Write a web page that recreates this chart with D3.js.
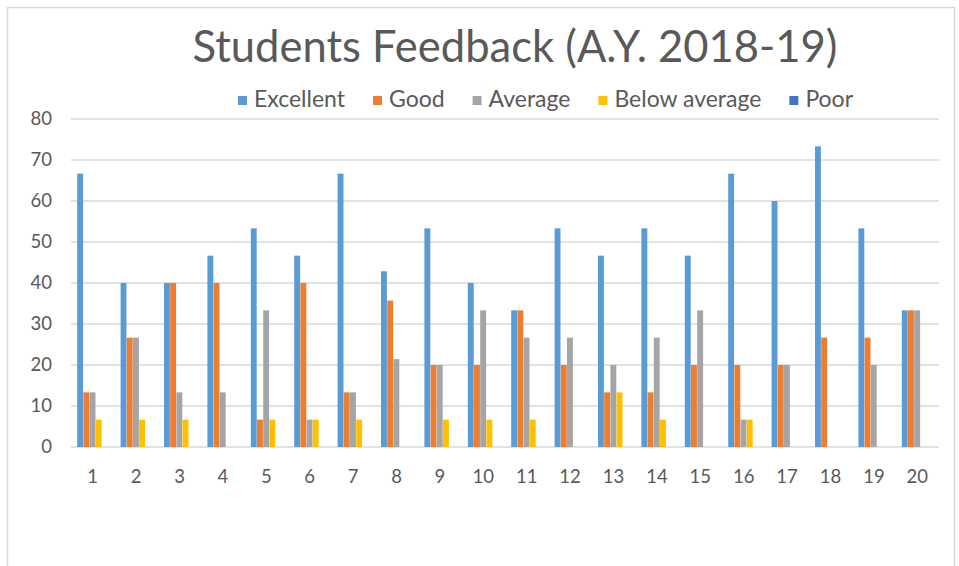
<!DOCTYPE html>
<html><head><meta charset="utf-8">
<script src="https://cdn.jsdelivr.net/npm/d3@7"></script>
<style>
html,body{margin:0;padding:0;background:#fff;}
svg{display:block;font-family:Lato,"Open Sans",sans-serif;}
</style></head>
<body><svg id="chart" width="959" height="566"></svg>
<script>
const categories = ["1","2","3","4","5","6","7","8","9","10","11","12","13","14","15","16","17","18","19","20"];
const seriesNames = ["Excellent","Good","Average","Below average","Poor"];
const seriesColors = ["#5B9BD5","#ED7D31","#A5A5A5","#FFC000","#4472C4"];
const excellent    = [66.67,40,40,46.67,53.33,46.67,66.67,42.86,53.33,40,33.33,53.33,46.67,53.33,46.67,66.67,60,73.33,53.33,33.33];
const good         = [13.33,26.67,40,40,6.67,40,13.33,35.71,20,20,33.33,20,13.33,13.33,20,20,20,26.67,26.67,33.33];
const average      = [13.33,26.67,13.33,13.33,33.33,6.67,13.33,21.43,20,33.33,26.67,26.67,20,26.67,33.33,6.67,20,0,20,33.33];
const belowAverage = [6.67,6.67,6.67,0,6.67,6.67,6.67,0,6.67,6.67,6.67,0,13.33,6.67,0,6.67,0,0,0,0];
const poor         = [0,0,0,0,0,0,0,0,0,0,0,0,0,0,0,0,0,0,0,0];
const yTicks = [0,10,20,30,40,50,60,70,80];
const titleText = "Students Feedback (A.Y. 2018-19)";

const seriesValues = [excellent, good, average, belowAverage, poor];
const svg = d3.select("#chart");
const textColor = "#595959";
const gridColor = "#d9d9d9";

// chart border
svg.append("rect").attr("x",7.5).attr("y",7.5).attr("width",947).attr("height",580)
  .attr("fill","#fff").attr("stroke","#d9d9d9").attr("stroke-width",1.5);

const plot = {left:71, right:939, top:119, bottom:447};
const x = d3.scaleBand().domain(categories).range([plot.left, plot.right]).paddingInner(0.286).paddingOuter(0.143);
const xs = d3.scaleBand().domain(seriesNames).range([0, x.bandwidth()]);
const y = d3.scaleLinear().domain([0,80]).range([plot.bottom, plot.top]);

// gridlines
svg.append("g").selectAll("line").data(yTicks).join("line")
  .attr("x1",plot.left).attr("x2",plot.right)
  .attr("y1",d=>y(d)).attr("y2",d=>y(d))
  .attr("stroke",gridColor).attr("stroke-width",1.5);

// y axis labels
const yAxis = d3.axisLeft(y).tickValues(yTicks).tickSize(0).tickPadding(0);
const yg = svg.append("g").attr("transform",`translate(${plot.left-19},0)`).call(yAxis);
yg.select(".domain").remove();
yg.selectAll("text").attr("fill",textColor).style("font-size","18.5px").style("font-family","Lato,'Open Sans',sans-serif");

// x axis labels
const xAxis = d3.axisBottom(x).tickSize(0).tickPadding(0);
const xg = svg.append("g").attr("transform",`translate(0,${plot.bottom+23})`).call(xAxis);
xg.select(".domain").remove();
xg.selectAll("text").attr("fill",textColor).style("font-size","18.5px").style("font-family","Lato,'Open Sans',sans-serif");

// bars
const groups = svg.append("g").selectAll("g").data(categories).join("g")
  .attr("transform",d=>`translate(${x(d)},0)`);
groups.selectAll("rect").data((c,i)=>seriesNames.map((s,j)=>({s, v:seriesValues[j][i], color:seriesColors[j]})))
  .join("rect")
  .attr("x",d=>xs(d.s)).attr("width",xs.bandwidth()-0.3)
  .attr("y",d=>y(d.v)).attr("height",d=>y(0)-y(d.v))
  .attr("fill",d=>d.color);

// title
const title = svg.append("text").attr("x",515).attr("y",62).attr("text-anchor","middle")
  .attr("fill",textColor).style("font-size","44px").text(titleText);
{
  const w = title.node().getComputedTextLength();
  title.style("font-size", (44*645/w).toFixed(2)+"px");
}

// legend
const legend = svg.append("g");
const items = legend.selectAll("g").data(seriesNames).join("g");
items.append("rect").attr("width",9).attr("height",9).attr("y",-8).attr("fill",(d,i)=>seriesColors[i]);
const ltexts = items.append("text").attr("x",16).attr("y",0).attr("fill",textColor).style("font-size","20px")
  .attr("dominant-baseline","middle").attr("dy","-2.5").text(d=>d);
{
  const w = ltexts.filter(d=>d==="Below average").node().getComputedTextLength();
  ltexts.style("font-size", (20*147/w).toFixed(2)+"px");
}
let widths = [];
items.each(function(){ widths.push(d3.select(this).select("text").node().getComputedTextLength()+16); });
const gap = 28;
const total = d3.sum(widths) + gap*(widths.length-1);
let cx = 545.5 - total/2;
items.attr("transform",(d,i)=>{ const t = `translate(${cx},104)`; cx += widths[i]+gap; return t; });
</script></body></html>
